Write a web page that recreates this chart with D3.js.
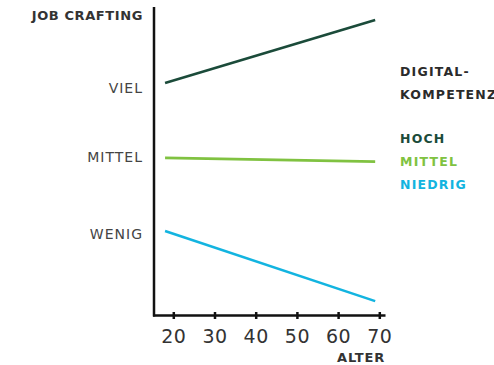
<!DOCTYPE html>
<html><head><meta charset="utf-8">
<script src="https://cdn.jsdelivr.net/npm/d3@7"></script>
<style>
body{margin:0;background:#fff;}
svg{display:block;font-family:"DejaVu Sans",sans-serif;}
</style></head>
<body><svg id="c" width="494" height="365"></svg>
<script>
const ages = [18, 69];
const xTicks = [20, 30, 40, 50, 60, 70];
const yTickValues = [73.7, 51.3, 26.3];
const yTickLabels = ["VIEL", "MITTEL", "WENIG"];
const seriesNames = ["HOCH", "MITTEL", "NIEDRIG"];
const seriesColors = ["#1b4b3a", "#80c241", "#13b4e0"];
const hochValues = [75.3, 95.8];
const mittelValues = [51.0, 49.8];
const niedrigValues = [27.3, 4.5];
const seriesValues = [hochValues, mittelValues, niedrigValues];

const svg = d3.select("#c");
const x = d3.scaleLinear().domain([20, 70]).range([173.3, 379.3]);
const y = d3.scaleLinear().domain([0, 100]).range([315, 7]);

// axes lines
svg.append("line").attr("x1", 154).attr("x2", 154).attr("y1", 7).attr("y2", 316.5)
  .attr("stroke", "#111").attr("stroke-width", 2.5);
svg.append("line").attr("x1", 153).attr("x2", 385.5).attr("y1", 315.5).attr("y2", 315.5)
  .attr("stroke", "#111").attr("stroke-width", 2.5);

// x ticks via axis
const xAxis = d3.axisBottom(x).tickValues(xTicks).tickSize(7).tickPadding(0).tickFormat(d3.format("d"));
const gx = svg.append("g").attr("transform", "translate(0,312)").call(xAxis);
gx.select(".domain").remove();
gx.selectAll(".tick line").attr("stroke", "#111").attr("stroke-width", 2.5);
gx.selectAll(".tick text").attr("y", 31).attr("dy", 0)
  .attr("font-size", 19).attr("fill", "#333").attr("letter-spacing", 0.5)
  .attr("font-family", "DejaVu Sans");

// y labels via axis
const yAxis = d3.axisLeft(y).tickValues(yTickValues).tickSize(0).tickPadding(0)
  .tickFormat((d, i) => yTickLabels[i]);
const gy = svg.append("g").attr("transform", "translate(143,0)").call(yAxis);
gy.select(".domain").remove();
gy.selectAll(".tick text").attr("font-size", 14).attr("fill", "#444")
  .attr("letter-spacing", 1).attr("dy", "0.35em").attr("font-family", "DejaVu Sans");

// titles
svg.append("text").attr("x", 143).attr("y", 20).attr("text-anchor", "end")
  .attr("font-size", 13).attr("font-weight", "bold").attr("fill", "#333")
  .attr("letter-spacing", 0.6).text("JOB CRAFTING");
svg.append("text").attr("x", 385).attr("y", 362).attr("text-anchor", "end")
  .attr("font-size", 13).attr("font-weight", "bold").attr("fill", "#333")
  .attr("letter-spacing", 0.8).text("ALTER");

// lines
const line = d3.line().x((d, i) => x(ages[i])).y(d => y(d));
seriesValues.forEach((vals, i) => {
  svg.append("path").datum(vals).attr("d", line).attr("fill", "none")
    .attr("stroke", seriesColors[i]).attr("stroke-width", 2.6);
});

// legend
const lg = svg.append("g").attr("font-size", 12.5).attr("font-weight", "bold").attr("letter-spacing", 1.2);
lg.append("text").attr("x", 400).attr("y", 76).attr("fill", "#2b2b2b").text("DIGITAL-");
lg.append("text").attr("x", 400).attr("y", 99).attr("fill", "#2b2b2b").text("KOMPETENZ");
seriesNames.forEach((n, i) => {
  lg.append("text").attr("x", 400).attr("y", 143 + i * 23).attr("fill", seriesColors[i]).text(n);
});
</script></body></html>
